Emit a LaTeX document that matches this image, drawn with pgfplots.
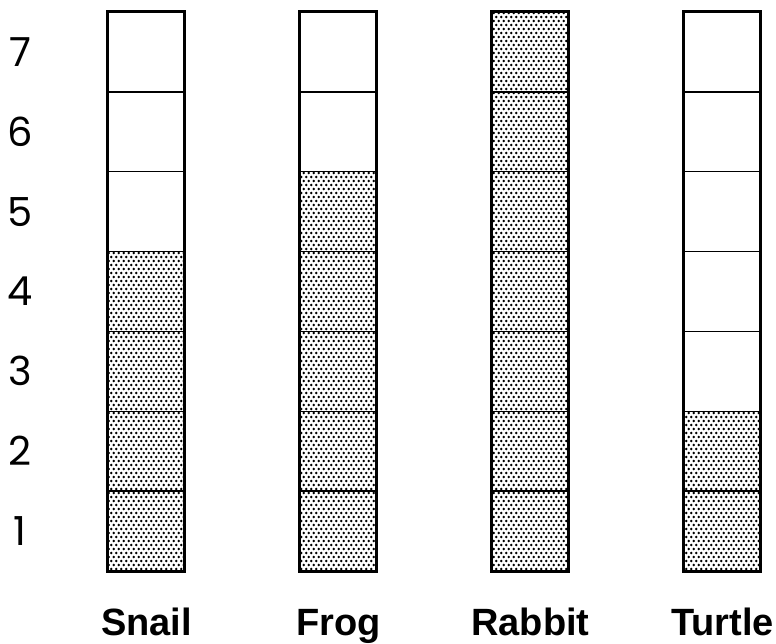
\documentclass[border=0pt]{standalone}
\usepackage{fontspec}
\setmainfont{Liberation Sans}
\newfontfamily\digfont{Poppins}
\usepackage{pgfplots}
\pgfplotsset{compat=1.18}
\usetikzlibrary{patterns}
\pgfdeclarepatternformonly{mydots}{\pgfqpoint{-1pt}{-1pt}}{\pgfqpoint{6pt}{9pt}}{\pgfqpoint{5pt}{8pt}}{%
  \pgfpathcircle{\pgfqpoint{1.25pt}{2pt}}{1.3pt}%
  \pgfpathcircle{\pgfqpoint{3.75pt}{6pt}}{1.3pt}%
  \pgfusepath{fill}}
\begin{document}
\begin{tikzpicture}
\begin{axis}[
  scale only axis,
  width=776pt, height=643pt,
  xmin=-0.763, xmax=3.279,
  ymin=-0.9016, ymax=7.150,
  clip=false,
  axis line style={draw=none},
  tick style={draw=none},
  xtick={0,1,2,3},
  xticklabels={Snail,Frog,Rabbit,Turtle},
  xticklabel style={anchor=base, yshift=8pt, inner sep=0pt, font=\fontsize{38}{38}\selectfont\bfseries},
  ytick={0.5,1.5,2.5,3.5,4.5,5.5,6.5},
  yticklabels={1,2,3,4,5,6,7},
  yticklabel style={anchor=center, xshift=20pt, inner sep=0pt, font=\digfont\fontsize{40}{40}\selectfont},
]
% empty columns (7 cells each)
\addplot[ybar, bar width=77pt, bar shift=0pt, fill=white, draw=none]
  coordinates {(0,7) (1,7) (2,7) (3,7)};
% filled cells
\addplot[ybar, bar width=77pt, bar shift=0pt, draw=none, pattern=mydots, pattern color=black]
  coordinates {(0,4) (1,5) (2,7) (3,2)};
% cell dividers
\addplot[only marks, mark=-, mark size=38.5pt, mark options={line width=1.5pt, black}]
  coordinates {
  (0,1) (0,2) (0,3) (0,4) (0,5) (0,6)
  (1,1) (1,2) (1,3) (1,4) (1,5) (1,6)
  (2,1) (2,2) (2,3) (2,4) (2,5) (2,6)
  (3,1) (3,2) (3,3) (3,4) (3,5) (3,6)};
% column outlines
\addplot[ybar, bar width=77pt, bar shift=0pt, fill=none, draw=black, line width=3pt]
  coordinates {(0,7) (1,7) (2,7) (3,7)};
\end{axis}
\pgfresetboundingbox
\useasboundingbox (current axis.south west) rectangle (current axis.north east);
\end{tikzpicture}
\end{document}
